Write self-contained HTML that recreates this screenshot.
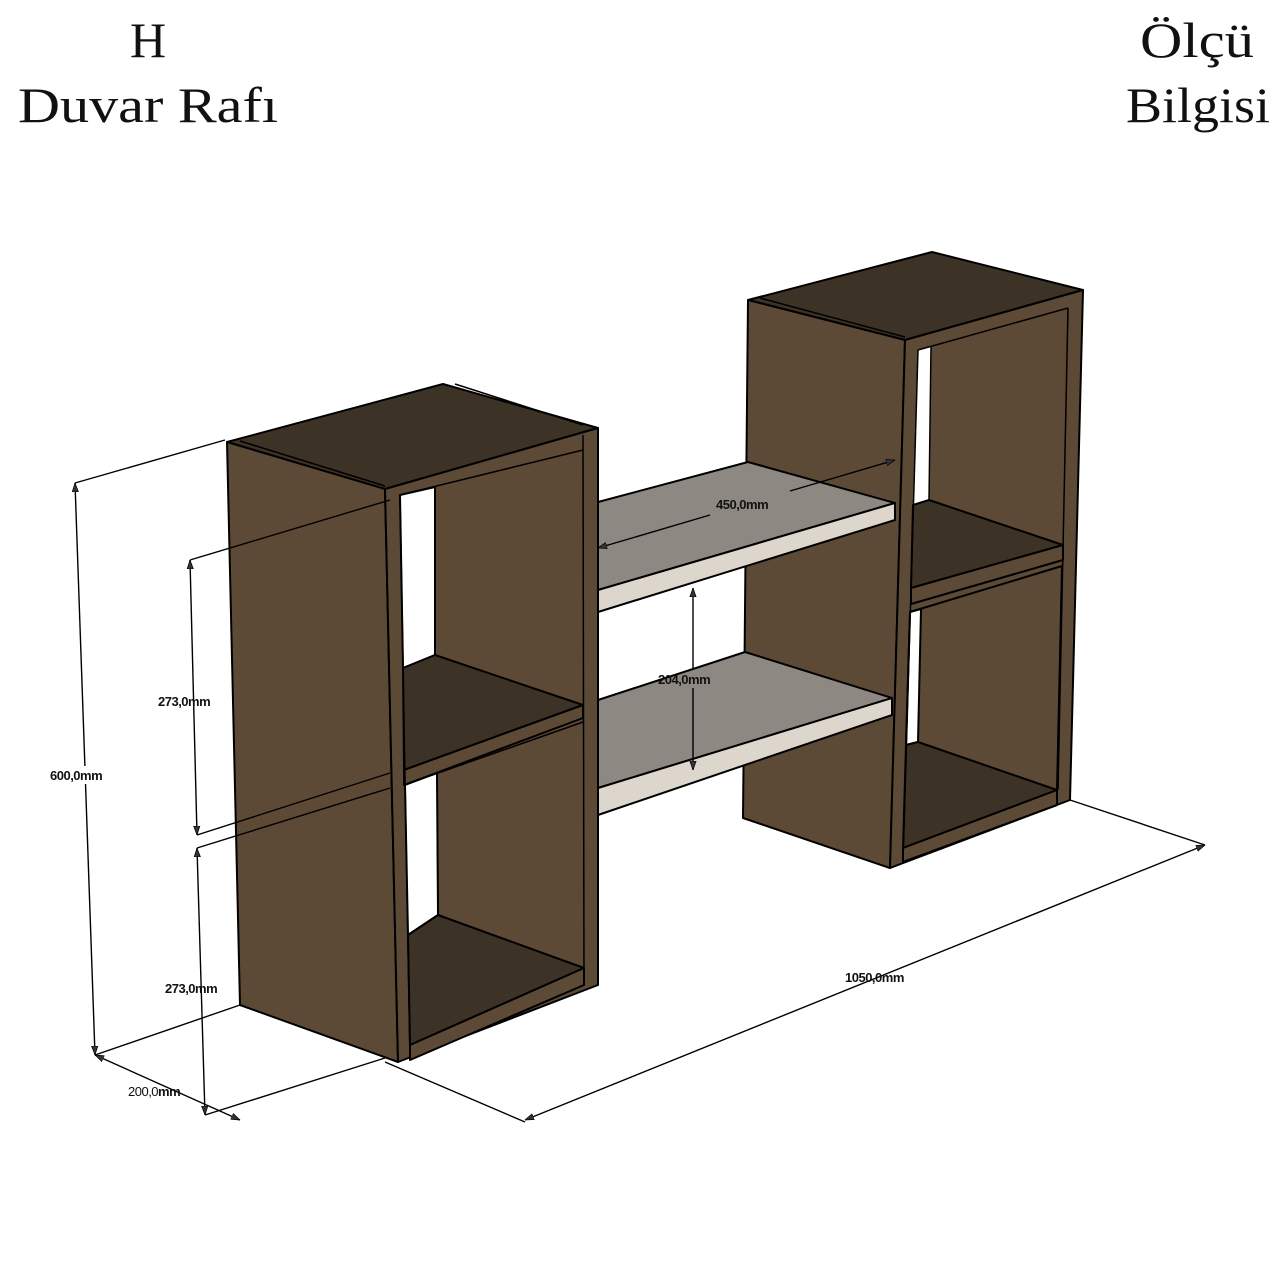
<!DOCTYPE html>
<html><head><meta charset="utf-8"><style>
html,body{margin:0;padding:0;background:#fff;}
svg{display:block;}
.t{font-family:"Liberation Serif",serif;font-size:50px;fill:#111;}
.d{font-family:"Liberation Sans",sans-serif;font-size:13px;font-weight:bold;fill:#111;letter-spacing:-0.5px;}
</style></head><body>
<svg width="1280" height="1280" viewBox="0 0 1280 1280" xmlns="http://www.w3.org/2000/svg">
<defs>
<marker id="a" viewBox="0 0 10 10" refX="10" refY="5" markerWidth="9" markerHeight="9" orient="auto-start-reverse" markerUnits="userSpaceOnUse"><path d="M0,1.5 L10,5 L0,8.5 Z" fill="#333" stroke="#000" stroke-width="0.8"/></marker>
</defs>
<rect width="1280" height="1280" fill="#fff"/>
<text class="t" x="148" y="57" text-anchor="middle">H</text>
<text class="t" x="18" y="122" textLength="260" lengthAdjust="spacingAndGlyphs">Duvar Rafı</text>
<text class="t" x="1140" y="57" textLength="114" lengthAdjust="spacingAndGlyphs">Ölçü</text>
<text class="t" x="1126" y="122" textLength="144" lengthAdjust="spacingAndGlyphs">Bilgisi</text>

<g stroke="#000" stroke-width="2" stroke-linejoin="round">
<!-- RIGHT BOX -->
<polygon points="748,300 932,252 1083,290 905,340" fill="#3d3226"/>
<line x1="760" y1="298" x2="905" y2="337" stroke-width="1.5"/>
<polygon points="748,300 905,340 890,868 743,818" fill="#5c4a37"/>
<polygon points="905,340 1083,290 1070,800 890,868" fill="#5c4a37"/>
<polygon points="918,350 931,347 929,500 913,505" fill="#fff" stroke="none"/>
<polygon points="931,347 1068,308 1063,545 929,500" fill="#5c4a37" stroke="none"/>
<line x1="931" y1="347" x2="929" y2="500" stroke-width="1.5"/>
<line x1="918" y1="350" x2="1068" y2="308" stroke-width="1.5"/>
<line x1="1068" y1="308" x2="1058" y2="790" stroke-width="1.5"/>
<polygon points="913,505 929,500 1063,545 911,588" fill="#3d3226"/>
<polygon points="911,588 1063,545 1063,560 911,604" fill="#5c4a37"/>
<polygon points="910,612 1062,566 1057,790 906,745" fill="#5c4a37"/>
<polygon points="910,612 921,609 918,742 906,745" fill="#fff"/>
<polygon points="906,745 918,742 1057,790 903,848" fill="#3d3226"/>
<polygon points="903,848 1057,790 1057,805 903,862" fill="#5c4a37"/>
<line x1="918" y1="350" x2="903" y2="862" stroke-width="1.5"/>

<!-- SHELVES -->
<polygon points="598,502 748,462 895,503 598,590" fill="#8e8882"/>
<polygon points="598,590 895,503 895,520 598,612" fill="#dcd6cd"/>
<polygon points="598,700 745,652 892,698 598,788" fill="#8e8882"/>
<polygon points="598,788 892,698 892,715 598,815" fill="#dcd6cd"/>

<!-- LEFT BOX -->
<polygon points="227,442 443,384 598,428 385,489" fill="#3d3226"/>
<line x1="240" y1="441" x2="385" y2="486" stroke-width="1.5"/>
<line x1="455" y1="384" x2="583" y2="425" stroke-width="1.5"/>
<polygon points="227,442 385,489 398,1062 240,1005" fill="#5c4a37"/>
<polygon points="385,489 598,428 598,985 398,1062" fill="#5c4a37"/>
<polygon points="400,495 435,487 435,655 403,668" fill="#fff"/>
<line x1="400" y1="495" x2="583" y2="450" stroke-width="1.5"/>
<line x1="435" y1="487" x2="435" y2="655" stroke-width="1.5"/>
<polygon points="403,668 435,655 583,705 404,770" fill="#3d3226"/>
<polygon points="404,770 583,705 583,718 404,785" fill="#5c4a37"/>
<polygon points="405,785 437,773 438,915 408,935" fill="#fff"/>
<line x1="404" y1="785" x2="583" y2="722" stroke-width="1.5"/>
<line x1="437" y1="773" x2="438" y2="915" stroke-width="1.5"/>
<polygon points="408,935 438,915 584,968 410,1045" fill="#3d3226"/>
<polygon points="410,1045 584,968 584,985 410,1060" fill="#5c4a37"/>
<line x1="583" y1="435" x2="584" y2="985" stroke-width="1.5"/>
<line x1="385" y1="489" x2="398" y2="1062" stroke-width="1.5"/>
<line x1="400" y1="495" x2="410" y2="1060" stroke-width="1.5"/>
</g>

<!-- DIMENSIONS -->
<g stroke="#000" stroke-width="1.4" fill="none">
<line x1="75" y1="483" x2="225" y2="440"/>
<line x1="95" y1="1055" x2="240" y2="1005"/>
<line x1="75" y1="483" x2="95" y2="1055" marker-start="url(#a)" marker-end="url(#a)"/>
<line x1="190" y1="560" x2="390" y2="500"/>
<line x1="197" y1="835" x2="390" y2="773"/>
<line x1="190" y1="560" x2="197" y2="835" marker-start="url(#a)" marker-end="url(#a)"/>
<line x1="197" y1="848" x2="390" y2="788"/>
<line x1="205" y1="1115" x2="385" y2="1058"/>
<line x1="197" y1="848" x2="205" y2="1115" marker-start="url(#a)" marker-end="url(#a)"/>
<line x1="95" y1="1055" x2="240" y2="1120" marker-start="url(#a)" marker-end="url(#a)"/>
<line x1="385" y1="1062" x2="525" y2="1122"/>
<line x1="1070" y1="800" x2="1205" y2="845"/>
<line x1="525" y1="1120" x2="1205" y2="845" marker-start="url(#a)" marker-end="url(#a)"/>
<line x1="598" y1="548" x2="710" y2="515" marker-start="url(#a)"/>
<line x1="790" y1="491" x2="895" y2="460" marker-end="url(#a)"/>
<line x1="693" y1="588" x2="693" y2="668" marker-start="url(#a)"/>
<line x1="693" y1="688" x2="693" y2="770" marker-end="url(#a)"/>
</g>
<rect x="45" y="766" width="72" height="18" fill="#fff"/>
<text class="d" x="50" y="780">600,0mm</text>
<text class="d" x="158" y="706">273,0mm</text>
<text class="d" x="165" y="993">273,0mm</text>
<text class="d" x="128" y="1096" style="font-weight:normal">200,0<tspan font-weight="bold">mm</tspan></text>
<text class="d" x="845" y="982">1050,0mm</text>
<text class="d" x="716" y="509">450,0mm</text>
<text class="d" x="658" y="684">204,0mm</text>
</svg>
</body></html>
